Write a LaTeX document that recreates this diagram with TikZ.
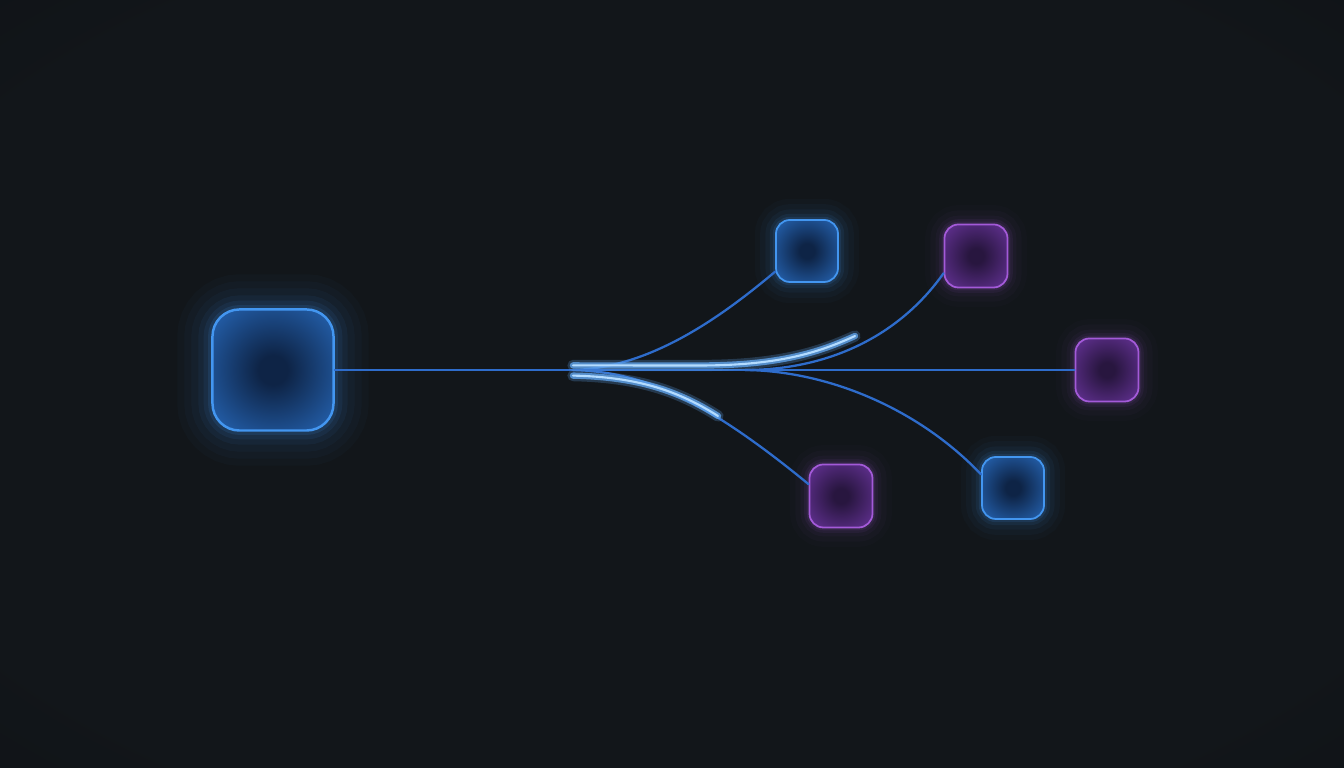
\documentclass[tikz,border=0pt]{standalone}
\usepackage{xcolor}
\usepackage{tikz}

\definecolor{bgdark}{HTML}{12161A}
\definecolor{bgedge}{HTML}{0C0E11}
\definecolor{edgeblue}{HTML}{4396F0}
\definecolor{innerblue}{HTML}{0E2446}
\definecolor{outerblue}{HTML}{2E7CDC}
\definecolor{edgepurple}{HTML}{A35AD8}
\definecolor{innerpurple}{HTML}{28163F}
\definecolor{outerpurple}{HTML}{7A3CB5}
\definecolor{linkblue}{HTML}{2E6CCB}
\definecolor{lightblue}{HTML}{B4DCFF}
\definecolor{streakblue}{HTML}{5FA2EA}

\pgfdeclareradialshading{blueglass}{\pgfpoint{0bp}{0bp}}{color(0bp)=(innerblue); color(6bp)=(innerblue); color(46bp)=(outerblue); color(50bp)=(outerblue)}
\pgfdeclareradialshading{purpleglass}{\pgfpoint{0bp}{0bp}}{color(0bp)=(innerpurple); color(6bp)=(innerpurple); color(46bp)=(outerpurple); color(50bp)=(outerpurple)}
\pgfdeclareradialshading{backdrop}{\pgfpoint{0bp}{0bp}}{color(0bp)=(bgdark); color(30bp)=(bgdark); color(50bp)=(bgedge)}

\begin{document}
\begin{tikzpicture}[x=0.01cm, y=-0.01cm, line cap=round]
  \tikzstyle{bigbox}=[rectangle, minimum size=1.21cm, rounded corners=0.27cm, draw=edgeblue, line width=0.7pt, shading=blueglass,
    preaction={draw=edgeblue, line width=20pt, draw opacity=0.025},
    preaction={draw=edgeblue, line width=16pt, draw opacity=0.03},
    preaction={draw=edgeblue, line width=12pt, draw opacity=0.04},
    preaction={draw=edgeblue, line width=8pt, draw opacity=0.06},
    preaction={draw=edgeblue, line width=5pt, draw opacity=0.08},
    preaction={draw=edgeblue, line width=2.5pt, draw opacity=0.12}]
  \tikzstyle{bluebox}=[rectangle, minimum size=0.62cm, rounded corners=0.14cm, draw=edgeblue, line width=0.5pt, shading=blueglass,
    preaction={draw=edgeblue, line width=12pt, draw opacity=0.025},
    preaction={draw=edgeblue, line width=9pt, draw opacity=0.035},
    preaction={draw=edgeblue, line width=6pt, draw opacity=0.05},
    preaction={draw=edgeblue, line width=3.5pt, draw opacity=0.08},
    preaction={draw=edgeblue, line width=1.8pt, draw opacity=0.12}]
  \tikzstyle{purplebox}=[rectangle, minimum size=0.63cm, rounded corners=0.14cm, draw=edgepurple, line width=0.5pt, shading=purpleglass,
    preaction={draw=edgepurple, line width=11pt, draw opacity=0.02},
    preaction={draw=edgepurple, line width=8pt, draw opacity=0.03},
    preaction={draw=edgepurple, line width=5pt, draw opacity=0.045},
    preaction={draw=edgepurple, line width=3pt, draw opacity=0.07},
    preaction={draw=edgepurple, line width=1.6pt, draw opacity=0.1}]
  \tikzstyle{link}=[draw=linkblue, line width=0.65pt]
  \tikzstyle{streak}=[draw=lightblue, line width=0.6pt,
    preaction={draw=streakblue, line width=3.2pt, draw opacity=0.25},
    preaction={draw=streakblue, line width=1.8pt, draw opacity=0.8}]

  % backdrop
  \shade[shading=backdrop] (0,0) rectangle (1344,768);
  \useasboundingbox (0,0) rectangle (1344,768);

  % boxes
  \node[bigbox] (N_0) at (273,370) {};
  \node[bluebox] (N_1) at (807,251) {};
  \node[purplebox] (N_2) at (976,256) {};
  \node[purplebox] (N_3) at (1107,370) {};
  \node[bluebox] (N_4) at (1013,488) {};
  \node[purplebox] (N_5) at (841,496) {};

  % forks
  \coordinate (H_1) at (573,370);
  \coordinate (H_2) at (745,370);
  \coordinate (S_1) at (855,336);
  \coordinate (S_2) at (718,416);

  \draw[link] (N_0.east) -- (N_3.west);
  \draw[link] (H_1) .. controls (650,368) and (720,318) .. (N_1.213);
  \draw[link] (H_2) .. controls (830,370) and (900,335) .. (N_2.208);
  \draw[link] (H_2) .. controls (830,371) and (920,410) .. (N_4.157);
  \draw[link] (H_1) .. controls (640,372) and (700,395) .. (N_5.160);

  \draw[streak] ([yshift=1.3pt]H_1) -- (700,365.5) .. controls (780,365.5) and (820,352) .. (S_1);
  \draw[streak] ([yshift=-1.6pt]H_1) .. controls (640,377) and (680,392) .. (S_2);
\end{tikzpicture}
\end{document}
